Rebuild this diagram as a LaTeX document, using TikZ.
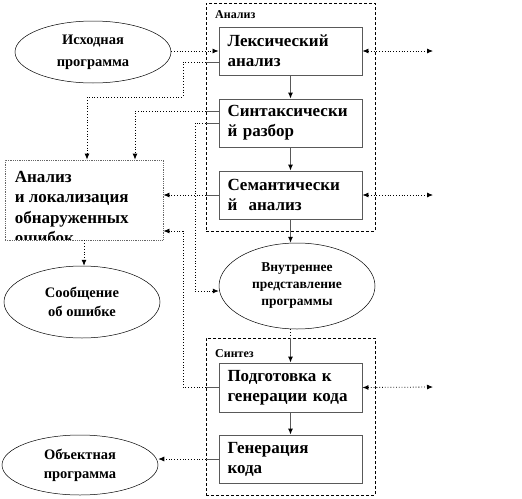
\documentclass[tikz,border=0pt]{standalone}
\usepackage{fontspec}
\setmainfont{Liberation Serif}[BoldFont={Liberation Serif Bold}]
\usetikzlibrary{arrows.meta,shapes.geometric}
\begin{document}
\begin{tikzpicture}[x=1pt,y=-1pt,
  box/.style={draw=black!65, line width=0.9pt, minimum width=143pt, minimum height=48pt,
    inner xsep=8.5pt, inner ysep=0pt, text width=126pt, align=left,
    font=\fontsize{17}{20}\selectfont\bfseries},
  oval/.style={ellipse, draw, line width=0.5pt, inner sep=0pt, align=center,
    font=\fontsize{14.5}{19}\selectfont\bfseries},
  frame/.style={draw, dash pattern=on 3pt off 2pt, line width=0.5pt, inner sep=0pt},
  lbl/.style={anchor=west, inner sep=0pt, font=\fontsize{12}{13}\selectfont\bfseries},
  dots/.style={dotted, line width=0.8pt},
  gline/.style={draw=black!65, line width=0.9pt},
  tip/.style={-{Latex[length=6pt,width=5pt,black]}},
  tips/.style={{Latex[length=6pt,width=5pt]}-{Latex[length=6pt,width=5pt]}}
]
\useasboundingbox (0,0) rectangle (522,498);

% frames
\node[frame, minimum width=169pt, minimum height=228pt] (fa) at (290.5,117) {};
\node[frame, minimum width=169pt, minimum height=157pt] (fs) at (290.5,416.5) {};
\node[lbl] at (215,15) {Анализ};
\node[lbl] at (215,354) {Синтез};

% process boxes
\node[box] (lex) at (290.5,51) {Лексический\\анализ};
\node[box] (syn) at (290.5,123) {Синтаксически\\й разбор};
\node[box] (sem) at (290.5,195) {Семантически\\й~ анализ};
\node[box, minimum height=49pt] (pod) at (290.5,387.5) {Подготовка к\\генерации кода};
\node[box] (gen) at (290.5,459) {Генерация\\кода};

% error analysis box (text clipped at bottom)
\node[draw=black!60, densely dotted, line width=0.8pt, minimum width=158pt, minimum height=80pt, inner sep=0pt] (anal) at (84,200) {};
\begin{scope}
  \clip ([shift={(1,-1)}]anal.south west) rectangle ([shift={(-1,1)}]anal.north east);
  \node[anchor=north west, inner sep=0pt, align=left, font=\fontsize{17}{20.5}\selectfont\bfseries]
    at ([shift={(10,11)}]anal.north west) {Анализ\\и локализация\\обнаруженных\\ошибок};
\end{scope}

% ellipses
\node[oval, minimum width=156pt, minimum height=62pt, font=\fontsize{14.5}{22}\selectfont\bfseries] (src) at (93,52) {Исходная\\программа};
\node[oval, minimum width=156pt, minimum height=72pt] (msg) at (82,302) {Сообщение\\об ошибке};
\node[oval, minimum width=156pt, minimum height=86pt, font=\fontsize{13.5}{17}\selectfont\bfseries] (ir) at (297,286) {Внутреннее\\представление\\программы};
\node[oval, minimum width=156pt, minimum height=60pt] (obj) at (80,465) {Объектная\\программа};

% vertical flow
\draw[gline, tip] (lex) -- (syn);
\draw[gline, tip] (syn) -- (sem);
\draw[gline, tip] (sem.south) -- (sem.south |- ir.north);
\draw[dots] (pod.north |- ir.south) -- (pod.north |- fs.north);
\draw[gline, tip] (pod.north |- fs.north) -- (pod.north);
\draw[gline, tip] (pod) -- (gen);

% source to lexer
\draw[dots, tip] (src.east |- lex.west) -- (lex.west);

% helper coordinates
\coordinate (lexo) at ([yshift=-11pt]lex.west);
\coordinate (syna) at ([yshift=12pt]syn.west);
\coordinate (synb) at (syn.west);
\coordinate (k1) at (183,97);
\coordinate (k2) at (87,97);
\coordinate (k3) at (135,111);
\coordinate (k4) at (195,291);
\coordinate (k5) at (183,231);
\coordinate (r1) at (433,51);
\coordinate (r2) at (433,195);
\coordinate (r3) at (433,387);

% lexer errors
\draw[gline] (lexo) -- (lexo -| fa.west);
\draw[dots, tip] (lexo -| fa.west) -- (lexo -| k1) -- (k1) -- (k2) -- (k2 |- anal.north);
% syntax errors
\draw[gline] (syna) -- (syna -| fa.west);
\draw[dots, tip] (syna -| fa.west) -- (k3) -- (k3 |- anal.north);
% syntax to internal representation
\draw[gline] (synb) -- (synb -| fa.west);
\draw[dots, tip] (synb -| fa.west) -- (synb -| k4) -- (k4) -- (k4 -| ir.west);
% semantic errors
\draw[gline] (sem.west) -- (sem.west -| fa.west);
\draw[dots, tip] (sem.west -| fa.west) -- (sem.west -| anal.east);
% code preparation errors
\draw[gline] (pod.west) -- (pod.west -| fa.west);
\draw[dots, tip] (pod.west -| fa.west) -- (pod.west -| k5) -- (k5) -- (k5 -| anal.east);
% error message
\draw[dots, tip] (anal.south) -- (anal.south |- msg.north);
% object program
\draw[gline] (gen.west) -- (gen.west -| fs.west);
\draw[dots, tip] (gen.west -| fs.west) -- (gen.west -| obj.east);

% right-hand links
\draw[dots, tips] (lex.east) -- (r1);
\draw[dots, tips] (sem.east) -- (r2);
\draw[dots, tips] (pod.east) -- (r3);
\end{tikzpicture}
\end{document}
